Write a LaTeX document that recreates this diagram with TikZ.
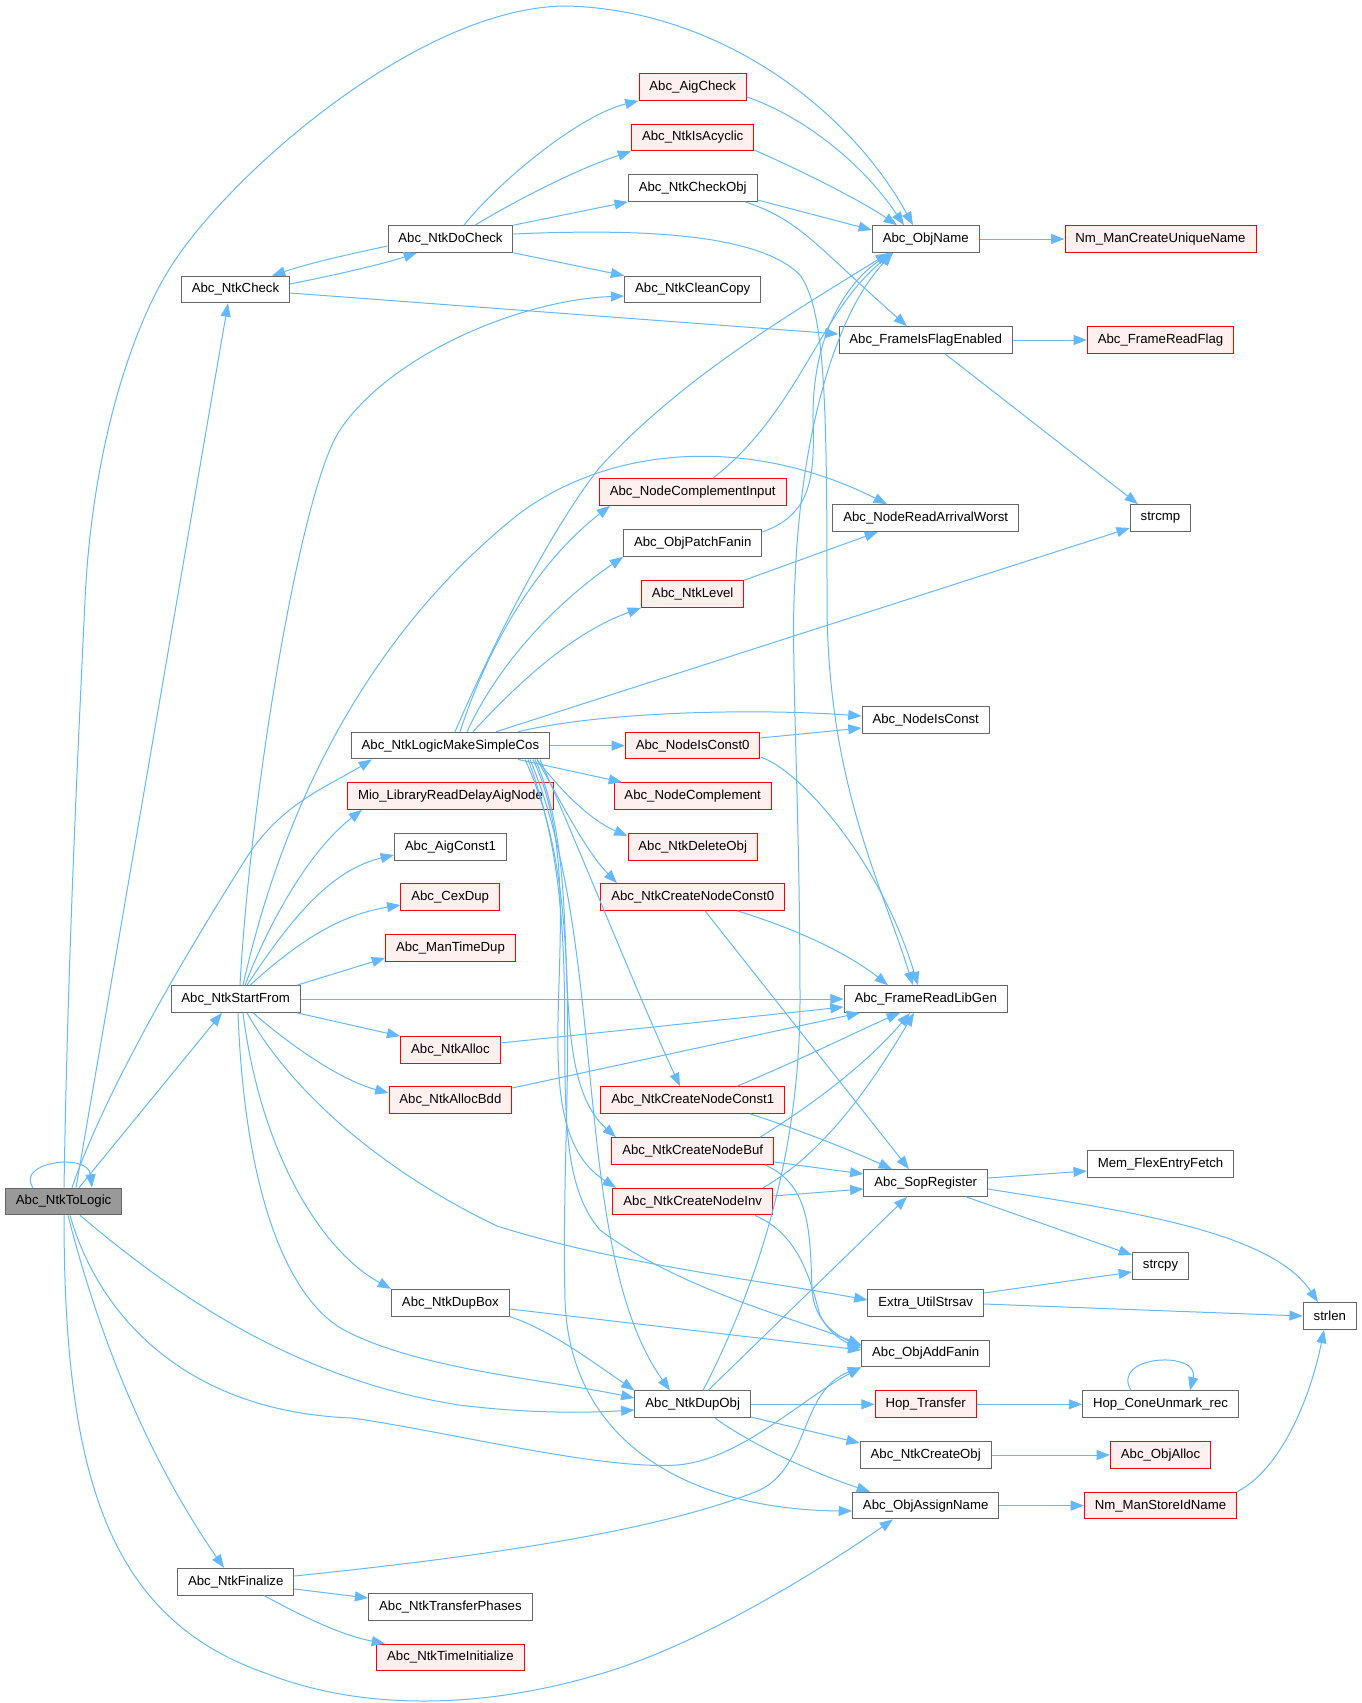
\documentclass[tikz,border=0pt]{standalone}
\usepackage{fontspec}
\setmainfont{Liberation Sans}
\usetikzlibrary{arrows.meta,calc}
\definecolor{edgeblue}{HTML}{63B8FF}
\definecolor{grey40}{HTML}{666666}
\definecolor{redfill}{HTML}{FFF0F0}
\definecolor{rootfill}{HTML}{999999}
\definecolor{redline}{HTML}{FF0000}
\tikzset{
  fn/.style={draw=grey40, fill=white, line width=0.75pt, inner xsep=7.8pt, inner ysep=0pt,
    minimum height=20pt, font=\fontsize{9.9}{11}\selectfont},
  rn/.style={fn, draw=redline, fill=redfill},
  rootn/.style={fn, fill=rootfill},
  edge/.style={draw=edgeblue, line width=0.75pt, -{Triangle[length=10pt,width=7.5pt]}}
}
\begin{document}
\begin{tikzpicture}[x=0.75pt,y=-0.75pt]
\useasboundingbox (0,0) rectangle (1362,1703);
% column 0
\node[rootn] (L) at (63.6,1201.5) {Abc\_NtkToLogic};
\node[fn] (NCheck) at (235.5,289.5) {Abc\_NtkCheck};
\node[fn] (S) at (235.7,999) {Abc\_NtkStartFrom};
\node[fn] (Fin) at (235.7,1581.7) {Abc\_NtkFinalize};
% column 2
\node[fn] (DoCheck) at (450.5,239) {Abc\_NtkDoCheck};
\node[fn] (C) at (450.4,745.6) {Abc\_NtkLogicMakeSimpleCos};
\node[rn] (Mio) at (450.5,796) {Mio\_LibraryReadDelayAigNode};
\node[fn] (AigC1) at (450.4,847) {Abc\_AigConst1};
\node[rn] (CexDup) at (450.2,897) {Abc\_CexDup};
\node[rn] (ManTD) at (450.5,948) {Abc\_ManTimeDup};
\node[rn] (NAlloc) at (450.4,1050) {Abc\_NtkAlloc};
\node[rn] (NAllocBdd) at (450.4,1100) {Abc\_NtkAllocBdd};
\node[fn] (DupBox) at (450.4,1302.7) {Abc\_NtkDupBox};
\node[fn] (TP) at (450.4,1607) {Abc\_NtkTransferPhases};
\node[rn] (TI) at (450.4,1657.4) {Abc\_NtkTimeInitialize};
% column 3
\node[rn] (AigCheck) at (692.7,87) {Abc\_AigCheck};
\node[rn] (IsAcyc) at (692.7,137.5) {Abc\_NtkIsAcyclic};
\node[fn] (CheckObj) at (692.7,188) {Abc\_NtkCheckObj};
\node[fn] (CleanCopy) at (692.7,289.5) {Abc\_NtkCleanCopy};
\node[rn] (NCI) at (692.7,492) {Abc\_NodeComplementInput};
\node[fn] (PatchFanin) at (692.7,543) {Abc\_ObjPatchFanin};
\node[rn] (Level) at (692.7,594) {Abc\_NtkLevel};
\node[rn] (NIC0) at (692.7,745.6) {Abc\_NodeIsConst0};
\node[rn] (NComp) at (692.7,796) {Abc\_NodeComplement};
\node[rn] (DelObj) at (692.7,847) {Abc\_NtkDeleteObj};
\node[rn] (CC0) at (692.7,897) {Abc\_NtkCreateNodeConst0};
\node[rn] (CC1) at (692.7,1100) {Abc\_NtkCreateNodeConst1};
\node[rn] (CBuf) at (692.7,1151) {Abc\_NtkCreateNodeBuf};
\node[rn] (CInv) at (692.7,1201.6) {Abc\_NtkCreateNodeInv};
\node[fn] (DupObj) at (692.7,1404.3) {Abc\_NtkDupObj};
% column 4
\node[fn] (ObjName) at (925.7,239) {Abc\_ObjName};
\node[fn] (FlagEn) at (925.7,340) {Abc\_FrameIsFlagEnabled};
\node[fn] (NRAW) at (925.7,518) {Abc\_NodeReadArrivalWorst};
\node[fn] (NIC) at (925.7,720) {Abc\_NodeIsConst};
\node[fn] (FRLG) at (925.7,999) {Abc\_FrameReadLibGen};
\node[fn] (Sop) at (925.7,1183) {Abc\_SopRegister};
\node[fn] (Extra) at (925.7,1302.7) {Extra\_UtilStrsav};
\node[fn] (AddFanin) at (925.7,1353.5) {Abc\_ObjAddFanin};
\node[rn] (HopT) at (925.7,1404.3) {Hop\_Transfer};
\node[fn] (CreateObj) at (925.7,1455) {Abc\_NtkCreateObj};
\node[fn] (AssignName) at (925.7,1505.6) {Abc\_ObjAssignName};
% column 5
\node[rn] (NmCUN) at (1160.5,239) {Nm\_ManCreateUniqueName};
\node[rn] (ReadFlag) at (1160.5,340) {Abc\_FrameReadFlag};
\node[fn] (strcmp) at (1160.5,518) {strcmp};
\node[fn] (Mem) at (1160.5,1164) {Mem\_FlexEntryFetch};
\node[fn] (strcpy) at (1160.5,1265.7) {strcpy};
\node[fn] (HopCone) at (1160.5,1404.3) {Hop\_ConeUnmark\_rec};
\node[rn] (ObjAlloc) at (1160.5,1455) {Abc\_ObjAlloc};
\node[rn] (NmSIN) at (1160.5,1505.6) {Nm\_ManStoreIdName};
\node[fn] (strlen) at (1329.8,1316) {strlen};

% edges from Abc_NtkToLogic
\draw[edge] (L.north -| 64,0) .. controls (68,950) and (78,750) .. (85,600) .. controls (92,450) and (131,330) .. (170,268) .. controls (228,175) and (420,6) .. (567,6) .. controls (720,10) and (850,110) .. (ObjName.north -| 913,0);
\draw[edge] (L.north -| 76,0) -- (NCheck.south -| 228,0);
\draw[edge] (L.north -| 33,0) .. controls (15,1162) and (88,1152) .. (L.north -| 92,0);
\draw[edge] (L.north -| 72,0) .. controls (95,1120) and (150,1010) .. (247,857) .. controls (282,803) and (327,787) .. (C.south -| 372,0);
\draw[edge] (L.north -| 79,0) -- (S.south -| 222,0);
\draw[edge] (L.south -| 80,0) .. controls (180,1300) and (300,1380) .. (459,1405) .. controls (540,1415) and (600,1412) .. (DupObj.west |- 0,1410);
\draw[edge] (L.south -| 70,0) .. controls (100,1320) and (190,1412) .. (352,1418) .. controls (450,1432) and (600,1470) .. (677,1465) .. controls (740,1460) and (800,1400) .. (AddFanin.south west);
\draw[edge] (L.south -| 68,0) .. controls (110,1380) and (170,1490) .. (Fin.north -| 224,0);
\draw[edge] (L.south -| 64,0) .. controls (64,1480) and (110,1620) .. (268,1674) .. controls (360,1710) and (480,1710) .. (600,1674) .. controls (700,1645) and (820,1570) .. (AssignName.south -| 893,0);

% NtkCheck / DoCheck
\draw[edge] (NCheck.east |- 0,284) .. controls (330,276) and (380,265) .. (DoCheck.south -| 417,0);
\draw[edge] (DoCheck.west |- 0,246) .. controls (350,254) and (310,263) .. (NCheck.north -| 272,0);
\draw[edge] (NCheck.east |- 0,293) -- (FlagEn.west |- 0,334);
\draw[edge] (DoCheck.north -| 464,0) .. controls (500,180) and (580,115) .. (AigCheck.south west);
\draw[edge] (DoCheck.north -| 475,0) .. controls (520,198) and (580,168) .. (IsAcyc.south west);
\draw[edge] (DoCheck.north east) -- (CheckObj.south west);
\draw[edge] (DoCheck.south east) -- (CleanCopy.north west);
\draw[edge] (DoCheck.east |- 0,234) .. controls (650,228) and (760,235) .. (800,275) .. controls (825,310) and (827,400) .. (827,600) .. controls (827,780) and (880,880) .. (FRLG.north -| 913,0);
\draw[edge] (AigCheck.east |- 0,97) .. controls (800,115) and (860,160) .. (ObjName.north -| 904,0);
\draw[edge] (IsAcyc.east |- 0,150) .. controls (800,170) and (860,200) .. (ObjName.north -| 897,0);
\draw[edge] (CheckObj.east |- 0,200) -- (ObjName.west |- 0,230);
\draw[edge] (CheckObj.south -| 745,0) .. controls (800,220) and (815,245) .. (FlagEn.north -| 907,0);
\draw[edge] (ObjName) -- (NmCUN);
\draw[edge] (FlagEn) -- (ReadFlag);
\draw[edge] (FlagEn.south -| 945,0) -- (strcmp.north -| 1138,0);
\draw[edge] (NCI.north -| 713,0) .. controls (800,410) and (820,310) .. (ObjName.south -| 893,0);
\draw[edge] (PatchFanin.east |- 0,532) .. controls (810,515) and (815,480) .. (813,420) .. controls (812,330) and (850,280) .. (ObjName.south -| 891,0);
\draw[edge] (Level.north east) -- (NRAW.south -| 878,0);

% Abc_NtkLogicMakeSimpleCos
\draw[edge] (C.north -| 455,0) .. controls (490,650) and (550,530) .. (600,467) .. controls (680,380) and (780,320) .. (ObjName.south -| 889,0);
\draw[edge] (C.north -| 460,0) .. controls (490,640) and (540,560) .. (NCI.south -| 610,0);
\draw[edge] (C.north -| 467,0) .. controls (500,660) and (560,600) .. (PatchFanin.south west);
\draw[edge] (C.north -| 473,0) .. controls (530,670) and (580,630) .. (Level.south west);
\draw[edge] (C.north -| 496,0) -- (strcmp.west |- 0,528);
\draw[edge] (C.north -| 518,0) .. controls (600,712) and (750,708) .. (NIC.west |- 0,716);
\draw[edge] (C) -- (NIC0);
\draw[edge] (C.south -| 518,0) -- (NComp.north -| 622,0);
\draw[edge] (C.south -| 537,0) .. controls (560,790) and (590,820) .. (DelObj.west |- 0,836);
\draw[edge] (C.south -| 537,0) .. controls (560,800) and (585,850) .. (CC0.north -| 617,0);
\draw[edge] (C.south -| 540,0) .. controls (580,850) and (640,1000) .. (CC1.north -| 680,0);
\draw[edge] (C.south -| 535,0) .. controls (590,880) and (540,1070) .. (CBuf.north -| 616,0);
\draw[edge] (C.south -| 533,0) .. controls (600,900) and (510,1120) .. (CInv.north -| 616,0);
\draw[edge] (C.south -| 530,0) .. controls (610,950) and (570,1250) .. (DupObj.north -| 670,0);
\draw[edge] (C.south -| 528,0) .. controls (600,950) and (530,1150) .. (600,1230) .. controls (680,1290) and (800,1320) .. (AddFanin.west |- 0,1345);
\draw[edge] (C.south -| 525,0) .. controls (590,900) and (560,1100) .. (565,1300) .. controls (570,1450) and (700,1510) .. (AssignName.west |- 0,1511);

% Abc_NtkStartFrom
\draw[edge] (S.north -| 240,0) .. controls (250,800) and (300,490) .. (340,430) .. controls (390,355) and (520,300) .. (CleanCopy.west |- 0,296);
\draw[edge] (S.north -| 243,0) .. controls (280,820) and (360,640) .. (520,513) .. controls (620,440) and (760,440) .. (NRAW.north -| 887,0);
\draw[edge] (S.north -| 245,0) .. controls (270,920) and (310,850) .. (Mio.south -| 362,0);
\draw[edge] (S.north -| 247,0) .. controls (290,920) and (330,870) .. (AigC1.west |- 0,855);
\draw[edge] (S.north -| 250,0) .. controls (300,940) and (340,915) .. (CexDup.west |- 0,905);
\draw[edge] (S.north -| 297,0) -- (ManTD.west |- 0,958);
\draw[edge] (S) -- (FRLG);
\draw[edge] (S.south -| 297,0) -- (NAlloc.north west);
\draw[edge] (S.south -| 253,0) .. controls (290,1045) and (340,1080) .. (NAllocBdd.west |- 0,1093);
\draw[edge] (S.south -| 247,0) .. controls (290,1090) and (380,1170) .. (497,1226) .. controls (620,1265) and (760,1280) .. (Extra.west |- 0,1300);
\draw[edge] (S.south -| 243,0) .. controls (260,1150) and (320,1250) .. (DupBox.north west);
\draw[edge] (S.south -| 238,0) .. controls (245,1200) and (290,1300) .. (344,1330) .. controls (420,1370) and (550,1380) .. (DupObj.west |- 0,1398);

% column 3 callees
\draw[edge] (NIC0.east |- 0,738) -- (NIC.west |- 0,728);
\draw[edge] (NIC0.east |- 0,757) .. controls (800,770) and (880,860) .. (FRLG.north -| 918,0);
\draw[edge] (CC0.south -| 737,0) .. controls (800,930) and (850,955) .. (FRLG.north -| 888,0);
\draw[edge] (CC0.south -| 705,0) -- (Sop.north -| 909,0);
\draw[edge] (NAlloc.east |- 0,1043) -- (FRLG.west |- 0,1007);
\draw[edge] (NAllocBdd.east |- 0,1088) -- (FRLG.south -| 860,0);
\draw[edge] (CC1.north -| 737,0) .. controls (800,1060) and (860,1030) .. (FRLG.south -| 900,0);
\draw[edge] (CC1.south -| 750,0) .. controls (800,1130) and (850,1150) .. (Sop.north -| 892,0);
\draw[edge] (CBuf.north -| 760,0) .. controls (820,1100) and (870,1060) .. (FRLG.south -| 910,0);
\draw[edge] (CBuf.east |- 0,1162) -- (Sop.west |- 0,1174);
\draw[edge] (CBuf.south -| 765,0) .. controls (810,1185) and (810,1230) .. (812,1290) .. controls (814,1320) and (835,1335) .. (AddFanin.west |- 0,1346);
\draw[edge] (CInv.north -| 763,0) .. controls (830,1150) and (880,1070) .. (FRLG.south -| 914,0);
\draw[edge] (CInv.east |- 0,1196) -- (Sop.west |- 0,1189);
\draw[edge] (CInv.south -| 755,0) .. controls (800,1235) and (810,1280) .. (820,1315) .. controls (830,1335) and (845,1342) .. (AddFanin.west |- 0,1348);

% lower right
\draw[edge] (Sop.east |- 0,1178) -- (Mem.west |- 0,1171);
\draw[edge] (Sop.south -| 966,0) -- (strcpy.west |- 0,1255);
\draw[edge] (Sop.east |- 0,1189) .. controls (1120,1210) and (1270,1230) .. (strlen.north -| 1318,0);
\draw[edge] (Extra.east |- 0,1293) -- (strcpy.west |- 0,1272);
\draw[edge] (Extra.east |- 0,1304) -- (strlen.west |- 0,1316);
\draw[edge] (DupBox.east |- 0,1309) -- (AddFanin.west |- 0,1350);
\draw[edge] (DupBox.south east) .. controls (550,1330) and (590,1360) .. (DupObj.north west);
\draw[edge] (DupObj.north -| 703,0) .. controls (760,1280) and (800,1150) .. (800,1000) .. controls (800,800) and (790,650) .. (795,580) .. controls (800,450) and (830,320) .. (ObjName.south -| 893,0);
\draw[edge] (DupObj.north -| 708,0) -- (Sop.south -| 907,0);
\draw[edge] (DupObj) -- (HopT);
\draw[edge] (DupObj.east |- 0,1417) -- (CreateObj.west |- 0,1443);
\draw[edge] (DupObj.south -| 715,0) .. controls (760,1450) and (820,1475) .. (AssignName.north -| 870,0);
\draw[edge] (HopT) -- (HopCone);
\draw[edge] (HopCone.north -| 1131,0) .. controls (1110,1355) and (1200,1350) .. (HopCone.north -| 1190,0);
\draw[edge] (CreateObj) -- (ObjAlloc);
\draw[edge] (AssignName) -- (NmSIN);
\draw[edge] (NmSIN.north east) .. controls (1280,1470) and (1310,1400) .. (strlen.south -| 1324,0);

% Abc_NtkFinalize
\draw[edge] (Fin.east |- 0,1576) .. controls (450,1560) and (650,1535) .. (760,1490) .. controls (810,1465) and (800,1390) .. (AddFanin.south west);
\draw[edge] (Fin.east |- 0,1589) -- (TP.west |- 0,1598);
\draw[edge] (Fin.south -| 264,0) .. controls (300,1615) and (340,1635) .. (TI.north -| 385,0);
\end{tikzpicture}
\end{document}
